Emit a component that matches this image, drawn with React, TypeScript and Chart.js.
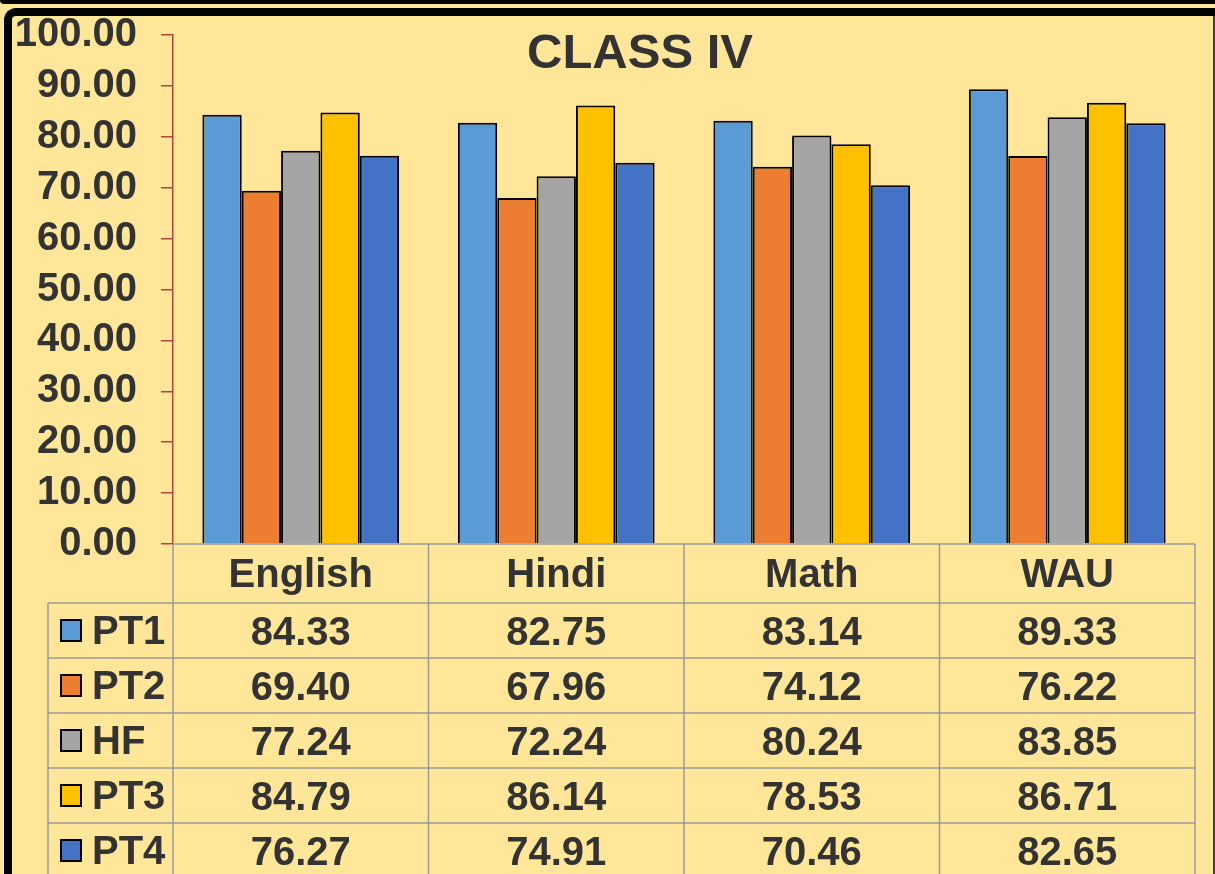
import { useEffect, useRef } from "react";
import { Chart, registerables } from "chart.js";

Chart.register(...registerables);

const categories = ["English", "Hindi", "Math", "WAU"];
const seriesNames = ["PT1", "PT2", "HF", "PT3", "PT4"];
const pt1 = [84.33, 82.75, 83.14, 89.33];
const pt2 = [69.4, 67.96, 74.12, 76.22];
const hf = [77.24, 72.24, 80.24, 83.85];
const pt3 = [84.79, 86.14, 78.53, 86.71];
const pt4 = [76.27, 74.91, 70.46, 82.65];
const seriesValues = [pt1, pt2, hf, pt3, pt4];
const seriesColors = ["#5B9BD5", "#ED7D31", "#A5A5A5", "#FFC000", "#4472C4"];
const titleText = "CLASS IV";

const FONT_FAMILY = "'Liberation Sans', Arial, sans-serif";
const TEXT_COLOR = "#333333";
const AXIS_COLOR = "#B8433A";

const titlePlugin = {
  id: "classTitle",
  afterDraw(chart: any) {
    const { ctx } = chart;
    ctx.save();
    ctx.font = `bold 49px ${FONT_FAMILY}`;
    ctx.fillStyle = TEXT_COLOR;
    ctx.textAlign = "center";
    ctx.textBaseline = "alphabetic";
    ctx.fillText(titleText, 640, 68);
    ctx.restore();
  },
};

const tablePlugin = {
  id: "dataTable",
  afterDraw(chart: any) {
    const { ctx, chartArea } = chart;
    const xs = chart.scales.x;
    const left = chartArea.left;
    const right = chartArea.right;
    const colW = (right - left) / categories.length;
    const top = chartArea.bottom;
    const headerH = 59;
    const rowH = 55;
    const legendLeft = 48;
    const bottom = chart.height + 10;

    ctx.save();
    ctx.strokeStyle = "#9A9A9A";
    ctx.lineWidth = 1.5;
    ctx.beginPath();
    ctx.moveTo(left, top);
    ctx.lineTo(right, top);
    for (let r = 0; r < seriesNames.length; r++) {
      const y = top + headerH + r * rowH;
      ctx.moveTo(legendLeft, y);
      ctx.lineTo(right, y);
    }
    for (let c = 0; c <= categories.length; c++) {
      const xx = left + c * colW;
      ctx.moveTo(xx, top);
      ctx.lineTo(xx, bottom);
    }
    ctx.moveTo(legendLeft, top + headerH);
    ctx.lineTo(legendLeft, bottom);
    ctx.stroke();

    ctx.font = `bold 40px ${FONT_FAMILY}`;
    ctx.fillStyle = TEXT_COLOR;
    ctx.textBaseline = "alphabetic";
    ctx.textAlign = "center";
    categories.forEach((cat, i) => {
      ctx.fillText(cat, xs.getPixelForValue(i), top + 43);
    });

    seriesNames.forEach((name, r) => {
      const rowTop = top + headerH + r * rowH;
      ctx.fillStyle = seriesColors[r];
      ctx.fillRect(61, rowTop + 17, 20, 21);
      ctx.strokeStyle = "#000";
      ctx.lineWidth = 2;
      ctx.strokeRect(61, rowTop + 17, 20, 21);
      ctx.fillStyle = TEXT_COLOR;
      ctx.textAlign = "left";
      ctx.fillText(name, 92, rowTop + 41);
      ctx.textAlign = "center";
      seriesValues[r].forEach((v, i) => {
        ctx.fillText(v.toFixed(2), xs.getPixelForValue(i), rowTop + 42);
      });
    });
    ctx.restore();
  },
};

export default function App() {
  const ref = useRef<HTMLCanvasElement | null>(null);

  useEffect(() => {
    document.body.style.margin = "0";
    if (!ref.current) return;
    const chart = new Chart(ref.current, {
      type: "bar",
      data: {
        labels: categories,
        datasets: seriesNames.map((name, i) => ({
          label: name,
          data: seriesValues[i],
          backgroundColor: seriesColors[i],
          borderColor: "#000000",
          borderWidth: 2,
          categoryPercentage: 0.77,
          barPercentage: 1.0,
        })),
      },
      options: {
        responsive: false,
        animation: false,
        layout: { padding: { left: 0, top: 35, right: 20, bottom: 330 } },
        plugins: {
          legend: { display: false },
          title: { display: false },
          tooltip: { enabled: false },
        },
        scales: {
          x: { display: false },
          y: {
            min: 0,
            max: 100,
            ticks: {
              stepSize: 10,
              autoSkip: false,
              padding: 24,
              color: TEXT_COLOR,
              font: { family: FONT_FAMILY, size: 40, weight: "bold" },
              callback: (v: any) => Number(v).toFixed(2),
            },
            grid: {
              drawOnChartArea: false,
              drawTicks: true,
              tickLength: 12,
              color: AXIS_COLOR,
              lineWidth: 1.5,
            },
            border: { display: true, color: AXIS_COLOR, width: 1.5 },
            afterFit: (scale: any) => {
              scale.width = 173;
              scale.paddingTop = 0;
              scale.paddingBottom = 0;
            },
          },
        },
      },
      plugins: [titlePlugin, tablePlugin],
    });
    return () => chart.destroy();
  }, []);

  return (
    <div
      style={{
        position: "relative",
        width: 1215,
        height: 874,
        background: "#FFE699",
        overflow: "hidden",
      }}
    >
      <div
        style={{
          position: "absolute",
          left: 0,
          top: 0,
          width: 1215,
          height: 4,
          background: "#000",
          borderBottomLeftRadius: 4,
        }}
      />
      <div
        style={{
          position: "absolute",
          left: 4,
          top: 8,
          width: 1215,
          height: 900,
          boxSizing: "border-box",
          borderTop: "8px solid #000",
          borderLeft: "8px solid #000",
          borderTopLeftRadius: 12,
        }}
      />
      <div
        style={{
          position: "absolute",
          left: 1213,
          top: 16,
          width: 2,
          height: 900,
          background: "#404040",
        }}
      />
      <canvas
        ref={ref}
        width={1215}
        height={874}
        style={{ position: "absolute", left: 0, top: 0 }}
      />
    </div>
  );
}
